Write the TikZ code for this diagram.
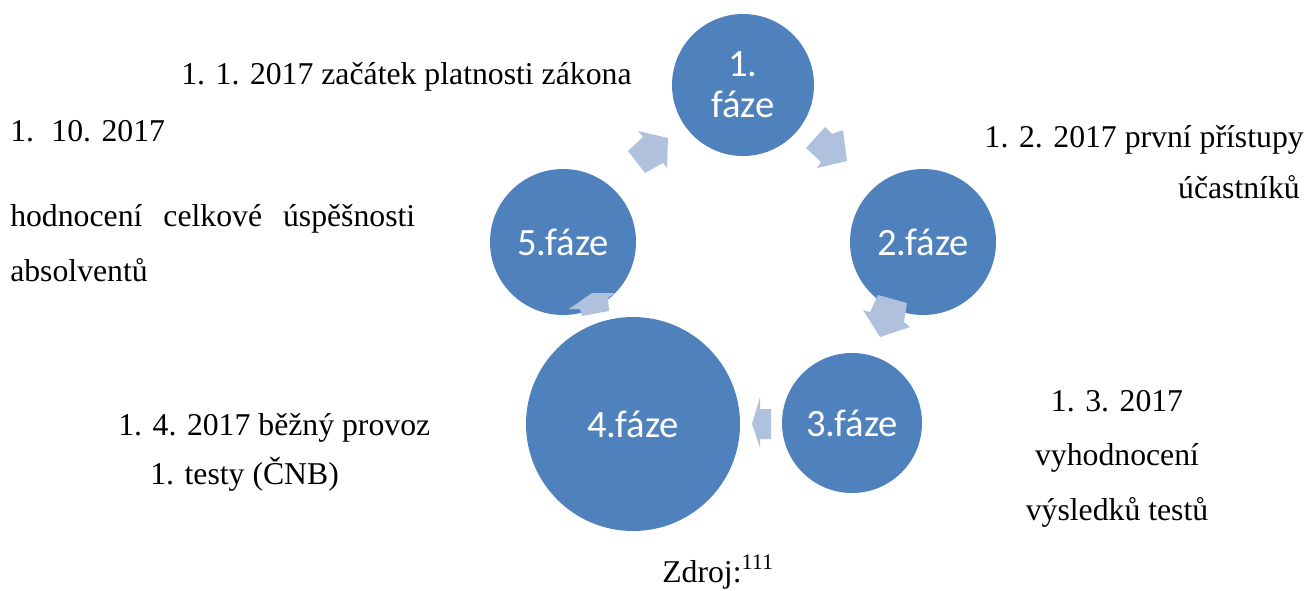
\documentclass[tikz,border=0pt]{standalone}
\usepackage{fontspec}
\setmainfont{Liberation Serif}
\newfontfamily\calibri{Carlito}
\definecolor{phaseblue}{RGB}{79,129,189}
\definecolor{arrowblue}{RGB}{176,193,222}
\tikzset{
  phase/.style={circle, fill=phaseblue, draw=none, inner sep=0pt, text=white,
    font=\calibri\fontsize{29pt}{30.75pt}\selectfont, align=center},
  lbl/.style={inner sep=0pt, font=\fontsize{23.8pt}{29pt}\selectfont},
  cyclearrow/.style={fill=arrowblue, draw=none}
}
\begin{document}
\begin{tikzpicture}[x=0.75pt, y=-0.75pt]
\useasboundingbox (0,0) rectangle (1308,590);
% phases
\node[phase, minimum size=106.5pt] (p1) at (743,85) {1.\\fáze};
\node[phase, minimum size=109.5pt] (p2) at (923,242) {2.fáze};
\node[phase, minimum size=105pt] (p3) at (852,423) {3.fáze};
\node[phase, minimum size=160.5pt] (p4) at (633,424) {4.fáze};
\node[phase, minimum size=109.5pt] (p5) at (563,242) {5.fáze};
% cycle arrows
\fill[cyclearrow] (628,151) -- (643,137) -- (638,131) -- (668,138) -- (667,168) -- (663,163) -- (645,173) -- cycle;
\fill[cyclearrow] (806,148) -- (825,127) -- (832,134) -- (843,130) -- (847,161) -- (817,168) -- (821,162) -- cycle;
\fill[cyclearrow] (878,295) -- (907,303) -- (904,322) -- (910,327) -- (880,337) -- (863,310) -- (870,312) -- cycle;
\fill[cyclearrow] (771,409) -- (760,409) -- (760,397) -- (752,424) -- (760,448) -- (760,439) -- (771,439) -- cycle;
\fill[cyclearrow] (569,309) -- (592,293) -- (615,293) -- (608,298) -- (609,311) -- (582,316) -- (580,309) -- cycle;
% labels
\node[lbl, anchor=base west] (l1) at (181,84) {1. 1. 2017 začátek platnosti zákona};
\node[lbl, anchor=base west] (l5a) at (10,141) {1.\hspace{13pt}10. 2017};
\node[lbl, anchor=base west] (l5b) at (10,226) {\makebox[303.75pt][s]{hodnocení\hfill celkové\hfill úspěšnosti}};
\node[lbl, anchor=base west] (l5c) at (10,281) {absolventů};
\node[lbl, anchor=base east] (l2a) at (1304,147) {1. 2. 2017 první přístupy};
\node[lbl, anchor=base east] (l2b) at (1300,198) {účastníků};
\node[lbl, anchor=base] (l3a) at (1117,411) {1. 3. 2017};
\node[lbl, anchor=base] (l3b) at (1117,465) {vyhodnocení};
\node[lbl, anchor=base] (l3c) at (1117,520) {výsledků testů};
\node[lbl, anchor=base west] (l4a) at (118,435) {1. 4. 2017 běžný provoz};
\node[lbl, anchor=base west] (l4b) at (150,484) {1. testy (ČNB)};
\node[lbl, anchor=base west] (src) at (662,582) {Zdroj:\textsuperscript{111}};
\end{tikzpicture}
\end{document}
